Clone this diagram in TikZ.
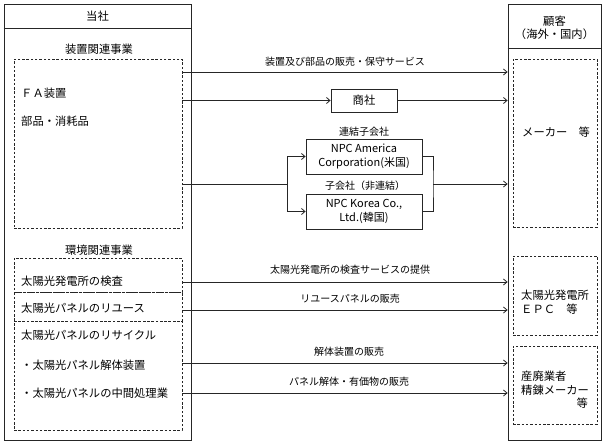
\documentclass[tikz,border=0pt]{standalone}
\usepackage{fontspec}
\setmainfont{Noto Sans CJK JP}
\usetikzlibrary{arrows.meta}
\begin{document}
\begin{tikzpicture}[x=1pt,y=-1pt,
  solidbox/.style={draw=black!85, line width=0.8pt, inner sep=0pt, rectangle},
  dotbox/.style={draw=black!85, line width=0.8pt, dash pattern=on 2.5pt off 1.8pt, inner sep=0pt, rectangle},
  lbl/.style={font=\fontsize{10}{12}\selectfont, inner sep=0pt},
  txt/.style={font=\fontsize{11.3}{14}\selectfont, inner sep=0pt},
  wtxt/.style={txt, anchor=west},
  conn/.style={draw=black!85, line width=0.8pt},
  arr/.style={conn, -{Straight Barb[length=3.5pt,width=6pt]}}]

\useasboundingbox (0,0) rectangle (606,444);

% outer boxes
\node[solidbox, minimum width=187pt, minimum height=436pt] (L) at (97.5,222) {};
\node[solidbox, minimum width=93pt, minimum height=436pt] (R) at (554.5,222) {};
\draw[conn] (L.west |- 0,28) -- (L.east |- 0,28);
\draw[conn] (R.west |- 0,48) -- (R.east |- 0,48);
\node[txt] (Lt) at (97.5,16) {当社};
\node[txt] (Rt1) at (554.5,21) {顧客};
\node[txt] (Rt2) at (554.5,34.5) {（海外・国内）};

% left dotted boxes
\node[dotbox, minimum width=168pt, minimum height=169pt] (A) at (98,143.5) {};
\node[dotbox, minimum width=168pt, minimum height=34pt] (B1) at (98,275) {};
\node[dotbox, minimum width=168pt, minimum height=29pt] (B2) at (98,306.5) {};
\node[dotbox, minimum width=168pt, minimum height=109pt] (B3) at (98,375.5) {};

\node[txt] (Ah) at (99,49) {装置関連事業};
\node[wtxt] (A1) at (21,93) {ＦＡ装置};
\node[wtxt] (A2) at (21,121) {部品・消耗品};
\node[txt] (Bh) at (99,250) {環境関連事業};
\node[wtxt] (B1t) at (21,281) {太陽光発電所の検査};
\node[wtxt] (B2t) at (21,308) {太陽光パネルのリユース};
\node[wtxt] (B3t) at (21,335) {太陽光パネルのリサイクル};
\node[wtxt] (B3a) at (21,365) {・太陽光パネル解体装置};
\node[wtxt] (B3b) at (21,393) {・太陽光パネルの中間処理業};

% right dotted boxes
\node[dotbox, minimum width=84pt, minimum height=168pt] (C1) at (555,143) {};
\node[dotbox, minimum width=84pt, minimum height=79pt] (C2) at (555,295.5) {};
\node[dotbox, minimum width=84pt, minimum height=78pt] (C3) at (555,385) {};
\node[wtxt] (C1t) at (522,132) {メーカー　等};
\node[wtxt] (C2a) at (521,295) {太陽光発電所};
\node[wtxt] (C2b) at (521,309) {ＥＰＣ　等};
\node[wtxt] (C3a) at (521,376) {産廃業者};
\node[wtxt] (C3b) at (521,390) {精錬メーカー};
\node[txt, anchor=east] (C3c) at (588,403.5) {等};

% middle boxes
\node[solidbox, minimum width=66pt, minimum height=23pt, txt] (Sh) at (364,100.5) {商社};
\node[solidbox, minimum width=116pt, minimum height=35pt, txt, align=center,
      font=\fontsize{11}{14.5}\selectfont] (Am) at (364,156.5) {NPC America\\Corporation(米国)};
\node[solidbox, minimum width=116pt, minimum height=35pt, txt, align=center,
      font=\fontsize{11}{14.5}\selectfont] (Ko) at (364,211.5) {NPC Korea Co.,\\Ltd.(韓国)};
\node[lbl] (AmL) at (364,132) {連結子会社};
\node[lbl] (KoL) at (365,186) {子会社（非連結）};

% connectors
\draw[arr] (A.east |- 0,72) -- (R.west |- 0,72);
\node[lbl] (l1) at (345,62) {装置及び部品の販売・保守サービス};

\draw[arr] (A.east |- Sh.west) -- (Sh.west);
\draw[arr] (Sh.east) -- (R.west |- Sh.east);

\coordinate (br) at (287,184);
\coordinate (jr) at (433,184);
\draw[conn] (A.east |- br) -- (br);
\draw[arr] (br) |- (Am.west);
\draw[arr] (br) |- (Ko.west);
\draw[conn] (Am.east) -| (jr) |- (Ko.east);
\draw[arr] (jr) -- (R.west |- jr);

\draw[arr] (B1.east |- 0,282) -- (R.west |- 0,282);
\node[lbl] (l4) at (350,270) {太陽光発電所の検査サービスの提供};
\draw[arr] (B2.east |- 0,310) -- (R.west |- 0,310);
\node[lbl] (l5) at (350,299) {リユースパネルの販売};
\draw[arr] (B3.east |- 0,363) -- (R.west |- 0,363);
\node[lbl] (l6) at (349,352) {解体装置の販売};
\draw[arr] (B3.east |- 0,393) -- (R.west |- 0,393);
\node[lbl] (l7) at (349,382) {パネル解体・有価物の販売};
\end{tikzpicture}
\end{document}
